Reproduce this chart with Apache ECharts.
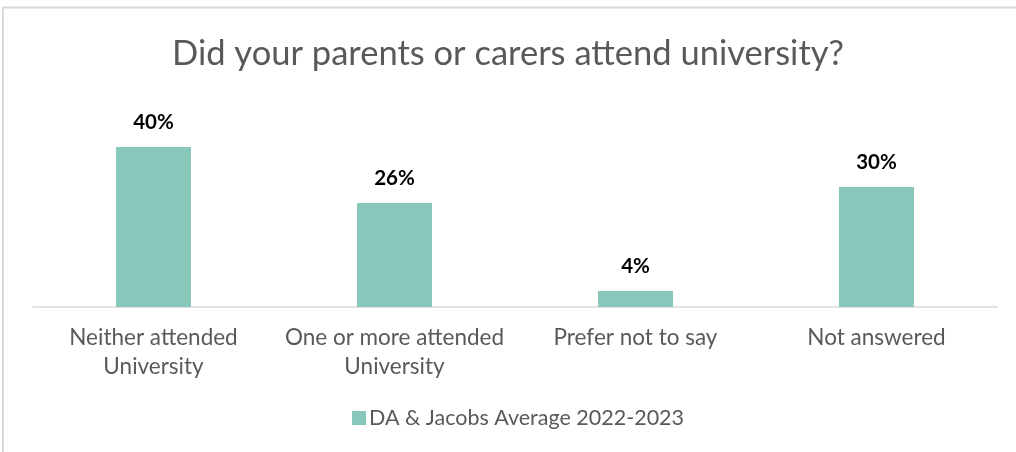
<!DOCTYPE html>
<html>
<head>
<meta charset="utf-8">
<script src="https://cdn.jsdelivr.net/npm/echarts@6/dist/echarts.min.js"></script>
<style>
  html, body { margin: 0; padding: 0; background: #ffffff; }
  #chart { width: 1016px; height: 452px; }
</style>
</head>
<body>
<div id="chart"></div>
<script>
// Survey answers: parents or carers attending university
const categories = [
  'Neither attended\nUniversity',
  'One or more attended\nUniversity',
  'Prefer not to say',
  'Not answered'
];
const seriesName = 'DA & Jacobs Average 2022-2023';
const values = [40, 26, 4, 30];

const FONT = 'Lato, "Open Sans", sans-serif';
const chart = echarts.init(document.getElementById('chart'), null, { renderer: 'canvas' });

chart.setOption({
  backgroundColor: '#ffffff',
  animation: false,
  title: {
    text: 'Did your parents or carers attend university?',
    left: 'center',
    top: 31,
    textStyle: { fontFamily: FONT, fontSize: 34.5, fontWeight: 'normal', color: '#595959' }
  },
  graphic: [{
    type: 'rect',
    shape: { x: 3, y: 7.5, width: 1100, height: 600 },
    style: { fill: 'none', stroke: '#d9d9d9', lineWidth: 2 },
    silent: true
  }],
  legend: {
    bottom: 18,
    left: 347,
    itemWidth: 14,
    itemHeight: 14,
    itemGap: 6,
    icon: 'rect',
    textStyle: { fontFamily: FONT, fontSize: 21.5, color: '#595959', padding: [0, 0, 0, -2] },
    data: [seriesName]
  },
  grid: { left: 33, right: 19, top: 127, bottom: 145, containLabel: false },
  xAxis: {
    type: 'category',
    data: categories,
    axisLine: { show: true, lineStyle: { color: '#d9d9d9', width: 1.5 } },
    axisTick: { show: false },
    axisLabel: {
      interval: 0,
      margin: 16,
      fontFamily: FONT,
      fontSize: 22.5,
      lineHeight: 29,
      color: '#595959'
    }
  },
  yAxis: {
    type: 'value',
    min: 0,
    max: 45,
    show: false,
    splitLine: { show: false }
  },
  series: [{
    name: seriesName,
    type: 'bar',
    data: values,
    barWidth: 75,
    itemStyle: { color: '#88c8bb' },
    label: {
      show: true,
      position: 'top',
      distance: 14,
      formatter: p => p.value + '%',
      fontFamily: FONT,
      fontSize: 20.5,
      fontWeight: 'bold',
      color: '#000000'
    }
  }]
});
</script>
</body>
</html>
